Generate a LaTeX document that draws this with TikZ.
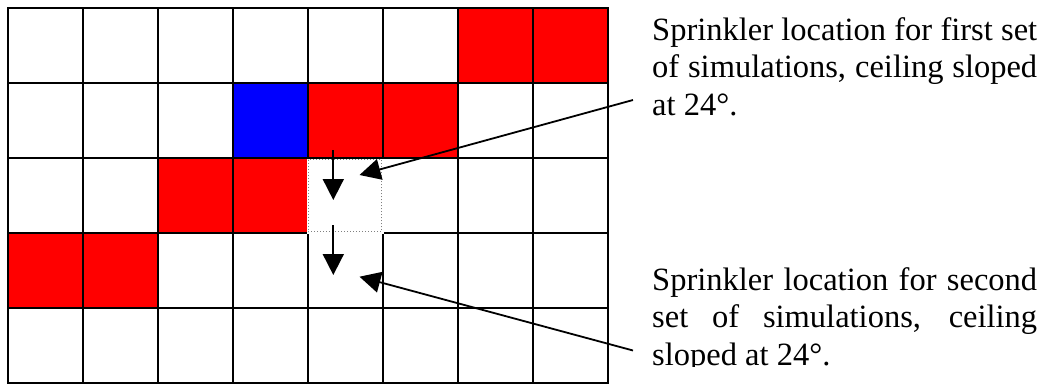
\documentclass[tikz,border=0pt]{standalone}
\usepackage{fontspec}
\setmainfont{Liberation Serif}
\newfontfamily\timesfont{Liberation Serif}
\usetikzlibrary{arrows.meta}
\begin{document}
\begin{tikzpicture}[x=1pt,y=-1pt,
  gridline/.style={line width=1.8pt, black, line cap=rect},
  redcell/.style={fill=red},
  bluecell/.style={fill=blue},
  dotcell/.style={draw=gray, dotted, line width=1pt},
  ptr/.style={line width=1.8pt, -{Triangle[length=21pt,width=21pt]}},
  txt/.style={anchor=base west, inner sep=0pt, font=\timesfont\fontsize{32.5}{37.5}\selectfont}
]
\useasboundingbox (0,0) rectangle (1044,383);
% coloured cells
\foreach \c/\r in {6/0,7/0,4/1,5/1,2/2,3/2,0/3,1/3}
  \fill[redcell] ({8.3+75*\c},{8.3+75*\r}) rectangle ++(75,75);
\fill[bluecell] ({8.3+75*3},{8.3+75*1}) rectangle ++(75,75);
% grid
\foreach \i in {0,...,8}
  \draw[gridline] ({8.3+75*\i},8.3) -- ++(0,375);
\foreach \j in {0,...,5}
  \draw[gridline] (8.3,{8.3+75*\j}) -- ++(600,0);
% dotted cell
\fill[white] (307.3,159.3) rectangle (384.4,234.3);
\draw[dotcell] (308.3,159.8) rectangle (381.8,231.8);
% arrow coordinates
\coordinate (a1s) at (333.3,150);
\coordinate (a1e) at (333.3,200);
\coordinate (a2s) at (333.3,225);
\coordinate (a2e) at (333.3,275);
\coordinate (p1s) at (633,100);
\coordinate (p1e) at (359.5,175);
\coordinate (p2s) at (633,350.5);
\coordinate (p2e) at (359.5,276.7);
\draw[ptr] (a1s) -- (a1e);
\draw[ptr] (a2s) -- (a2e);
\draw[ptr] (p1s) -- (p1e);
\draw[ptr] (p2s) -- (p2e);
% texts
\node[txt] (t1) at (652,40) {\vtop{\hbox to 385pt{Sprinkler location for first set}\hbox to 385pt{of simulations, ceiling sloped}\hbox{at 24°.}}};
\begin{scope}
\clip (640,250) rectangle (1044,366.3);
\node[txt] (t2) at (652,290) {\vtop{\hbox to 385pt{Sprinkler location for second}\hbox to 385pt{set of simulations, ceiling}\hbox{sloped at 24°.}}};
\end{scope}
\end{tikzpicture}
\end{document}
